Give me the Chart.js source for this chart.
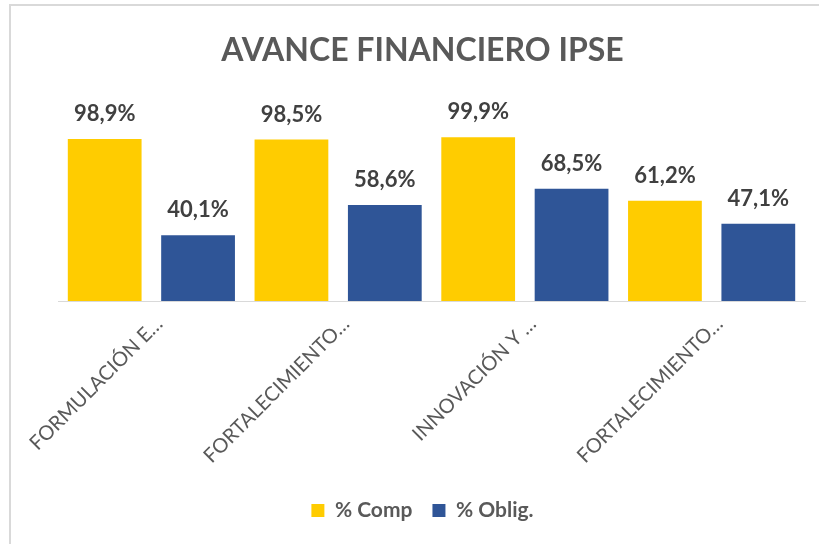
<!DOCTYPE html>
<html><head><meta charset="utf-8">
<script src="https://cdn.jsdelivr.net/npm/chart.js@4.4.0/dist/chart.umd.min.js"></script>
<style>
html,body{margin:0;padding:0;background:#fff;overflow:hidden;width:819px;height:544px;}
#frame{position:absolute;left:9px;top:4px;width:840px;height:580px;border:2px solid #d9d9d9;box-sizing:border-box;}
#wrap{position:absolute;left:0;top:0;width:819px;height:544px;}
</style></head><body>
<div id="frame"></div>
<div id="wrap"><canvas id="c" width="819" height="544"></canvas></div>
<script>
const categories = ["FORMULACIÓN E…", "FORTALECIMIENTO…", "INNOVACIÓN Y …", "FORTALECIMIENTO…"];
const compValues = [98.9, 98.5, 99.9, 61.2];
const obligValues = [40.1, 58.6, 68.5, 47.1];
const seriesNames = ["% Comp", "% Oblig."];
const chartTitle = "AVANCE FINANCIERO IPSE";

const fmt = v => v.toFixed(1).replace('.', ',') + '%';

const valueLabels = {
  id: 'valueLabels',
  afterDatasetsDraw(chart) {
    const ctx = chart.ctx;
    ctx.save();
    ctx.font = 'bold 22px Lato';
    ctx.fillStyle = '#404040';
    ctx.textAlign = 'center';
    ctx.textBaseline = 'alphabetic';
    chart.data.datasets.forEach((ds, i) => {
      const meta = chart.getDatasetMeta(i);
      meta.data.forEach((bar, j) => {
        ctx.fillText(fmt(ds.data[j]), bar.x, bar.y - 18);
      });
    });
    ctx.restore();
  }
};

new Chart(document.getElementById('c'), {
  type: 'bar',
  data: {
    labels: categories,
    datasets: [
      { label: seriesNames[0], data: compValues, backgroundColor: '#FFCC00' },
      { label: seriesNames[1], data: obligValues, backgroundColor: '#2F5597' }
    ]
  },
  options: {
    responsive: false,
    animation: false,
    devicePixelRatio: 1,
    categoryPercentage: 1.0,
    barPercentage: 0.79,
    layout: { padding: { left: 40, right: 14, top: 0, bottom: 13 } },
    plugins: {
      title: {
        display: true,
        text: chartTitle,
        color: '#595959',
        font: { family: 'Lato', size: 32, weight: 'bold' },
        padding: { top: 31, bottom: 35 }
      },
      legend: {
        position: 'bottom',
        labels: {
          color: '#595959',
          font: { family: 'Lato', size: 21, weight: 'bold' },
          boxWidth: 13, boxHeight: 13,
          padding: 20
        }
      },
      tooltip: { enabled: false }
    },
    scales: {
      x: {
        grid: { display: false },
        border: { display: true, color: '#d9d9d9', width: 1 },
        ticks: {
          color: '#595959',
          font: { family: 'Lato', size: 20 },
          minRotation: 45, maxRotation: 45, autoSkip: false,
          labelOffset: 8
        },
        afterFit(s) { s.height = 179; }
      },
      y: {
        min: 0, max: 120,
        display: true,
        grid: { display: false },
        border: { display: false },
        ticks: { display: false },
        afterFit(s) { s.width = 18; }
      }
    }
  },
  plugins: [valueLabels]
});
</script>
</body></html>
